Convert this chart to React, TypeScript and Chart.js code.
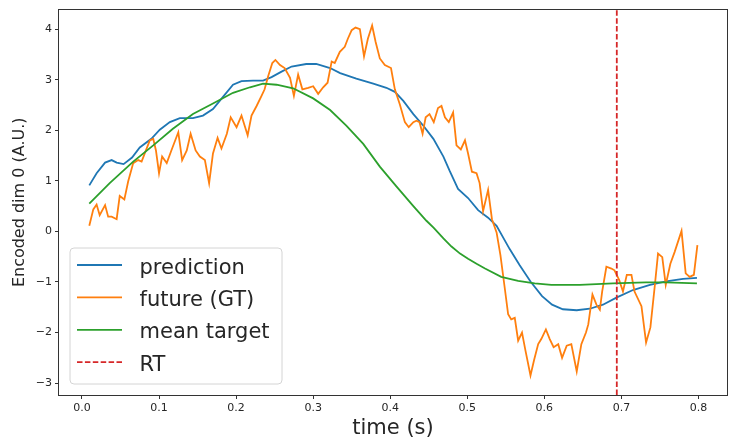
import React, { useEffect, useRef } from "react";
import { Chart, registerables } from "chart.js";

Chart.register(...registerables);

// ---- data ----
const futureTime = [
  0.0095, 0.0147, 0.019, 0.023, 0.03, 0.034, 0.0385, 0.045, 0.049, 0.055,
  0.06, 0.0665, 0.073, 0.0774, 0.084, 0.088, 0.0925, 0.096, 0.1, 0.104,
  0.11, 0.116, 0.125, 0.13, 0.136, 0.141, 0.1475, 0.153, 0.1595, 0.165,
  0.17, 0.176, 0.181, 0.188, 0.193, 0.2006, 0.207, 0.215, 0.22, 0.2266,
  0.233, 0.237, 0.2416, 0.247, 0.251, 0.257, 0.263, 0.27, 0.275, 0.2805,
  0.286, 0.2935, 0.3, 0.3065, 0.313, 0.3187, 0.324, 0.328, 0.3346, 0.341,
  0.345, 0.35, 0.355, 0.3606, 0.366, 0.371, 0.3765, 0.381, 0.3865, 0.393,
  0.401, 0.406, 0.4125, 0.419, 0.424, 0.43, 0.434, 0.438, 0.442, 0.446,
  0.451, 0.4565, 0.462, 0.4665, 0.471, 0.476, 0.4816, 0.486, 0.4916, 0.497,
  0.501, 0.506, 0.512, 0.516, 0.5205, 0.527, 0.532, 0.538, 0.543, 0.5486,
  0.553, 0.557, 0.5616, 0.566, 0.571, 0.5755, 0.582, 0.5866, 0.592, 0.596,
  0.602, 0.607, 0.612, 0.618, 0.623, 0.629, 0.635, 0.642, 0.648, 0.654,
  0.657, 0.6624, 0.6676, 0.672, 0.675, 0.6805, 0.687, 0.691, 0.697, 0.702,
  0.707, 0.713, 0.717, 0.726, 0.732, 0.7376, 0.743, 0.7475, 0.753, 0.7575,
  0.7635, 0.769, 0.778, 0.7834, 0.7886, 0.794, 0.7986,
];
const futureValues = [
  0.11, 0.435, 0.53, 0.32, 0.52, 0.29, 0.29, 0.24, 0.7, 0.63,
  0.99, 1.35, 1.41, 1.38, 1.64, 1.8, 1.83, 1.6, 1.15, 1.48,
  1.35, 1.6, 1.96, 1.41, 1.6, 1.93, 1.6, 1.48, 1.41, 0.955,
  1.54, 1.85, 1.64, 1.93, 2.255, 2.06, 2.29, 1.9, 2.29, 2.48,
  2.68, 2.81, 3.07, 3.33, 3.39, 3.29, 3.23, 3.035, 2.68, 3.1,
  2.81, 2.84, 2.87, 2.72, 2.85, 2.94, 3.36, 3.33, 3.55, 3.65,
  3.81, 3.98, 4.03, 4.0, 3.46, 3.81, 4.07, 3.75, 3.42, 3.29,
  3.23, 2.81, 2.51, 2.16, 2.06, 2.16, 2.19, 2.16, 1.93, 2.255,
  2.32, 2.16, 2.44, 2.48, 2.255, 2.16, 2.35, 1.7, 1.62, 1.8,
  1.54, 1.18, 1.15, 0.955, 0.4, 0.82, 0.24, -0.02, -0.47, -1.12,
  -1.64, -1.74, -1.71, -2.16, -2.0, -2.36, -2.85, -2.55, -2.23, -2.13,
  -1.94, -2.13, -2.29, -2.23, -2.5, -2.26, -2.23, -2.77, -2.23, -2.0,
  -1.84, -1.25, -1.45, -1.55, -1.19, -0.7, -0.735, -0.77, -0.96, -1.19,
  -0.86, -0.86, -1.19, -1.48, -2.2, -1.9, -1.12, -0.44, -0.51, -1.06,
  -0.64, -0.41, 0.01, -0.83, -0.9, -0.86, -0.27,
];

const predTime = [
  0.0095, 0.019, 0.03, 0.0385, 0.045, 0.054, 0.065, 0.075, 0.09, 0.101,
  0.114, 0.127, 0.144, 0.157, 0.17, 0.183, 0.196, 0.207, 0.222, 0.235,
  0.246, 0.259, 0.272, 0.291, 0.304, 0.322, 0.335, 0.356, 0.378, 0.395,
  0.406, 0.417, 0.43, 0.443, 0.456, 0.469, 0.477, 0.488, 0.501, 0.514,
  0.527, 0.538, 0.555, 0.568, 0.582, 0.597, 0.61, 0.624, 0.642, 0.659,
  0.676, 0.6935, 0.715, 0.737, 0.758, 0.78, 0.798,
];
const predValues = [
  0.91, 1.15, 1.36, 1.41, 1.36, 1.33, 1.46, 1.66, 1.83, 2.01,
  2.16, 2.24, 2.24, 2.29, 2.42, 2.66, 2.9, 2.97, 2.98, 2.98,
  3.05, 3.16, 3.26, 3.31, 3.31, 3.23, 3.13, 3.02, 2.92, 2.84,
  2.76, 2.58, 2.32, 2.09, 1.83, 1.48, 1.2, 0.84, 0.66, 0.42,
  0.27, 0.11, -0.35, -0.67, -0.99, -1.28, -1.45, -1.54, -1.56, -1.53,
  -1.45, -1.31, -1.16, -1.06, -0.99, -0.94, -0.92,
];

const meanTime = [
  0.0095, 0.036, 0.0665, 0.0925, 0.118, 0.144, 0.17, 0.196, 0.218, 0.235,
  0.2525, 0.274, 0.3, 0.322, 0.343, 0.365, 0.3865, 0.408, 0.43, 0.447,
  0.4565, 0.469, 0.4795, 0.4906, 0.501, 0.512, 0.523, 0.544, 0.566, 0.5875,
  0.609, 0.646, 0.689, 0.732, 0.758, 0.798,
];
const meanValues = [
  0.55, 0.955, 1.38, 1.7, 2.03, 2.32, 2.53, 2.74, 2.85, 2.92,
  2.9, 2.83, 2.63, 2.4, 2.09, 1.73, 1.28, 0.89, 0.5, 0.21,
  0.07, -0.14, -0.3, -0.44, -0.54, -0.64, -0.735, -0.9, -0.98, -1.03,
  -1.06, -1.06, -1.03, -1.01, -1.01, -1.03,
];

const rtTime = 0.694;

const xTicks = [0, 0.1, 0.2, 0.3, 0.4, 0.5, 0.6, 0.7, 0.8];
const yTicks = [-3, -2, -1, 0, 1, 2, 3, 4];
const xLimits = [-0.0298, 0.837];
const yLimits = [-3.236, 4.386];

const seriesLabels = ["prediction", "future (GT)", "mean target", "RT"];
const xTitle = "time (s)";
const yTitle = "Encoded dim 0 (A.U.)";

// ---- styling ----
const FONT = "'DejaVu Sans', 'Liberation Sans', sans-serif";
const TEXT = "#262626";
const AXIS = "#333333";

const toPoints = (xs: number[], ys: number[]) => xs.map((x, i) => ({ x, y: ys[i] }));

const framePlugin = {
  id: "frame",
  afterDatasetsDraw(chart: any) {
    const { ctx, chartArea: a } = chart;
    ctx.save();
    ctx.strokeStyle = AXIS;
    ctx.lineWidth = 1;
    const l = Math.round(a.left) - 0.5;
    const t = Math.round(a.top) - 0.5;
    const r = Math.round(a.right) + 0.5;
    const b = Math.round(a.bottom) + 0.5;
    ctx.strokeRect(l, t, r - l, b - t);
    ctx.restore();
  },
};

const boxLegendPlugin = {
  id: "boxLegend",
  afterDraw(chart: any) {
    const { ctx, chartArea: a } = chart;
    const x0 = a.left + 11;
    const y1 = a.bottom - 11;
    const w = 212;
    const h = 136;
    const y0 = y1 - h;
    const rad = 4;
    ctx.save();
    ctx.beginPath();
    ctx.moveTo(x0 + rad, y0);
    ctx.lineTo(x0 + w - rad, y0);
    ctx.arcTo(x0 + w, y0, x0 + w, y0 + rad, rad);
    ctx.lineTo(x0 + w, y0 + h - rad);
    ctx.arcTo(x0 + w, y0 + h, x0 + w - rad, y0 + h, rad);
    ctx.lineTo(x0 + rad, y0 + h);
    ctx.arcTo(x0, y0 + h, x0, y0 + h - rad, rad);
    ctx.lineTo(x0, y0 + rad);
    ctx.arcTo(x0, y0, x0 + rad, y0, rad);
    ctx.closePath();
    ctx.fillStyle = "rgba(255,255,255,0.85)";
    ctx.fill();
    ctx.strokeStyle = "#d4d4d4";
    ctx.lineWidth = 1;
    ctx.stroke();

    chart.data.datasets.forEach((ds: any, i: number) => {
      const y = y0 + 17 + i * 32.4;
      ctx.beginPath();
      ctx.strokeStyle = ds.borderColor;
      ctx.lineWidth = ds.borderWidth;
      ctx.setLineDash(ds.borderDash || []);
      ctx.moveTo(x0 + 7, y);
      ctx.lineTo(x0 + 52, y);
      ctx.stroke();
      ctx.setLineDash([]);
      ctx.fillStyle = TEXT;
      ctx.font = `21px ${FONT}`;
      ctx.textBaseline = "alphabetic";
      ctx.textAlign = "left";
      ctx.fillText(ds.label, x0 + 69.5, y + 8.5);
    });
    ctx.restore();
  },
};

export default function App() {
  const canvasRef = useRef<HTMLCanvasElement | null>(null);

  useEffect(() => {
    const canvas = canvasRef.current;
    if (!canvas) return;
    const chart = new Chart(canvas, {
      type: "line",
      data: {
        datasets: [
          {
            label: seriesLabels[0],
            data: toPoints(predTime, predValues),
            borderColor: "#1f77b4",
            borderWidth: 1.8,
            pointRadius: 0,
            order: 3,
          },
          {
            label: seriesLabels[1],
            data: toPoints(futureTime, futureValues),
            borderColor: "#ff7f0e",
            borderWidth: 1.8,
            pointRadius: 0,
            order: 2,
          },
          {
            label: seriesLabels[2],
            data: toPoints(meanTime, meanValues),
            borderColor: "#2ca02c",
            borderWidth: 1.8,
            pointRadius: 0,
            order: 1,
          },
          {
            label: seriesLabels[3],
            data: [
              { x: rtTime, y: yLimits[0] },
              { x: rtTime, y: yLimits[1] },
            ],
            borderColor: "#d62728",
            borderWidth: 1.8,
            borderDash: [5.5, 2.4],
            pointRadius: 0,
            order: 0,
          },
        ],
      },
      options: {
        animation: false,
        responsive: false,
        devicePixelRatio: 1,
        layout: { padding: { left: 0, top: 4, right: 3, bottom: 0 } },
        elements: { line: { tension: 0 }, point: { radius: 0 } },
        plugins: {
          legend: { display: false },
          tooltip: { enabled: false },
        },
        scales: {
          x: {
            type: "linear",
            min: xLimits[0],
            max: xLimits[1],
            afterBuildTicks: (s: any) => {
              s.ticks = xTicks.map((v) => ({ value: v }));
            },
            afterFit: (s: any) => {
              s.height = 46;
            },
            ticks: {
              autoSkip: false,
              maxRotation: 0,
              padding: 3,
              color: TEXT,
              font: { family: FONT, size: 11 },
              callback: (v: any) => Number(v).toFixed(1),
            },
            grid: {
              drawOnChartArea: false,
              drawTicks: true,
              tickLength: 4,
              tickColor: AXIS,
            },
            border: { display: false },
            title: {
              display: true,
              text: xTitle,
              color: TEXT,
              font: { family: FONT, size: 21 },
              padding: { top: 0, bottom: 0 },
            },
          },
          y: {
            type: "linear",
            min: yLimits[0],
            max: yLimits[1],
            afterBuildTicks: (s: any) => {
              s.ticks = yTicks.map((v) => ({ value: v }));
            },
            afterFit: (s: any) => {
              s.width = 59;
            },
            ticks: {
              autoSkip: false,
              padding: 3,
              color: TEXT,
              font: { family: FONT, size: 11 },
              callback: (v: any) => (v < 0 ? "\u2212" + Math.abs(v) : String(v)),
            },
            grid: {
              drawOnChartArea: false,
              drawTicks: true,
              tickLength: 4,
              tickColor: AXIS,
            },
            border: { display: false },
            title: {
              display: true,
              text: yTitle,
              color: TEXT,
              font: { family: FONT, size: 16 },
              padding: { top: 10, bottom: 0 },
            },
          },
        },
      },
      plugins: [framePlugin, boxLegendPlugin],
    } as any);
    return () => chart.destroy();
  }, []);

  return (
    <div style={{ position: "fixed", left: 0, top: 0, width: 730, height: 441, background: "#fff" }}>
      <canvas ref={canvasRef} width={730} height={441} style={{ display: "block" }} />
    </div>
  );
}
